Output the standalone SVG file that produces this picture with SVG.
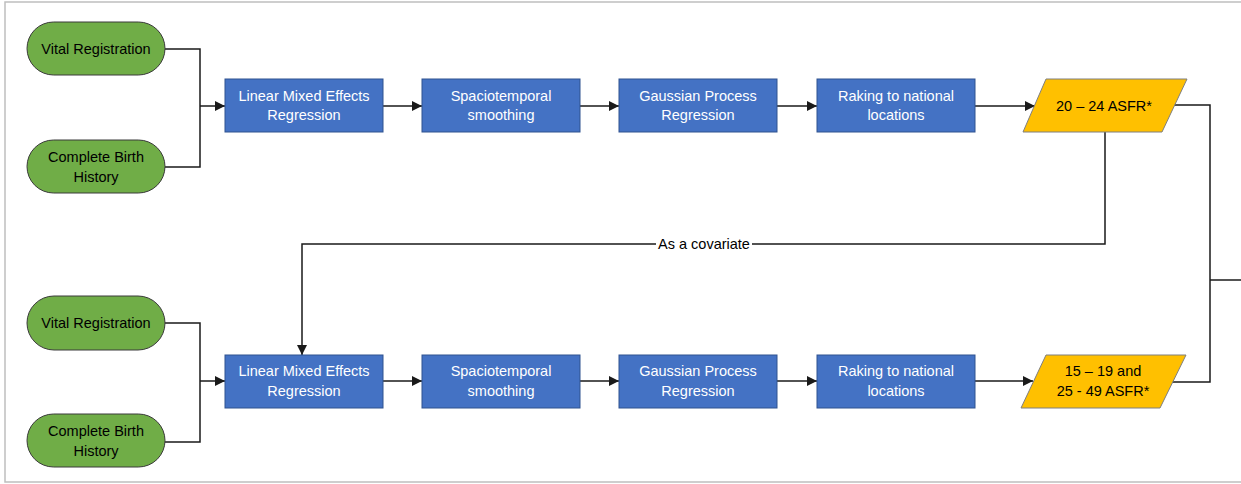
<svg xmlns="http://www.w3.org/2000/svg" width="1241" height="484" viewBox="0 0 1241 484">
<style>
.frame{fill:none;stroke:#bfbfbf;stroke-width:1.5}
.src rect{fill:#70ad47;stroke:#3a3a3a;stroke-width:1}
.proc rect{fill:#4472c4;stroke:#2f528f;stroke-width:1}
.out polygon{fill:#ffc000;stroke:#7f7f7f;stroke-width:1}
text{font-family:"Liberation Sans",Arial,sans-serif;font-size:14.5px;text-anchor:middle;dominant-baseline:central}
.src text,.out text{fill:#000}
.proc text{fill:#fff}
.conn path{fill:none;stroke:#1a1a1a;stroke-width:1.5}
.lbl{fill:#000}
</style>
<defs>
<marker id="ah" viewBox="0 0 10 10" refX="10" refY="5" markerWidth="10" markerHeight="10" markerUnits="userSpaceOnUse" orient="auto"><path d="M0,0 L10,5 L0,10 z" fill="#1a1a1a"/></marker>
</defs>
<path class="frame" d="M1241,2 H5 V482 H1241"/>
<g class="conn">
<path d="M165,49 H200 V167 H165"/>
<path d="M200,106 H225" marker-end="url(#ah)"/>
<path d="M383,106 H422" marker-end="url(#ah)"/>
<path d="M580,106 H619" marker-end="url(#ah)"/>
<path d="M777,106 H817" marker-end="url(#ah)"/>
<path d="M975,106 H1035" marker-end="url(#ah)"/>
<path d="M1173,105 H1210 V382 H1170"/>
<path d="M1210,280 H1241"/>
<path d="M1105,132 V244 H752 M656,244 H302 V355" marker-end="url(#ah)"/>
<path d="M165,323 H200 V442 H165"/>
<path d="M200,381 H225" marker-end="url(#ah)"/>
<path d="M383,381 H422" marker-end="url(#ah)"/>
<path d="M580,381 H619" marker-end="url(#ah)"/>
<path d="M777,381 H817" marker-end="url(#ah)"/>
<path d="M975,381 H1033" marker-end="url(#ah)"/>
</g>
<text class="lbl" x="704" y="244">As a covariate</text>
<g id="vr1" class="src"><rect x="27" y="22" width="138" height="53" rx="26.5"/><text x="96" y="49">Vital Registration</text></g>
<g id="cbh1" class="src"><rect x="27" y="140" width="138" height="53" rx="26.5"/><text x="96" y="157">Complete Birth</text><text x="96" y="177">History</text></g>
<g id="lmer1" class="proc"><rect x="225" y="79" width="158" height="53"/><text x="304" y="96">Linear Mixed Effects</text><text x="304" y="115">Regression</text></g>
<g id="st1" class="proc"><rect x="422" y="79" width="158" height="53"/><text x="501" y="96">Spaciotemporal</text><text x="501" y="115">smoothing</text></g>
<g id="gp1" class="proc"><rect x="619" y="79" width="158" height="53"/><text x="698" y="96">Gaussian Process</text><text x="698" y="115">Regression</text></g>
<g id="rk1" class="proc"><rect x="817" y="79" width="158" height="53"/><text x="896" y="96">Raking to national</text><text x="896" y="115">locations</text></g>
<g id="asfr1" class="out"><polygon points="1046,79 1187,79 1162,132 1023,132"/><text x="1104" y="106">20 – 24 ASFR*</text></g>
<g id="vr2" class="src"><rect x="27" y="296" width="138" height="54" rx="27"/><text x="96" y="323">Vital Registration</text></g>
<g id="cbh2" class="src"><rect x="27" y="414" width="138" height="53" rx="26.5"/><text x="96" y="431">Complete Birth</text><text x="96" y="451">History</text></g>
<g id="lmer2" class="proc"><rect x="225" y="355" width="158" height="53"/><text x="304" y="371">Linear Mixed Effects</text><text x="304" y="391">Regression</text></g>
<g id="st2" class="proc"><rect x="422" y="355" width="158" height="53"/><text x="501" y="371">Spaciotemporal</text><text x="501" y="391">smoothing</text></g>
<g id="gp2" class="proc"><rect x="619" y="355" width="158" height="53"/><text x="698" y="371">Gaussian Process</text><text x="698" y="391">Regression</text></g>
<g id="rk2" class="proc"><rect x="817" y="355" width="158" height="53"/><text x="896" y="371">Raking to national</text><text x="896" y="391">locations</text></g>
<g id="asfr2" class="out"><polygon points="1046,355 1186,355 1160,408 1021,408"/><text x="1103" y="371">15 – 19 and</text><text x="1103" y="391">25 - 49 ASFR*</text></g>
</svg>
